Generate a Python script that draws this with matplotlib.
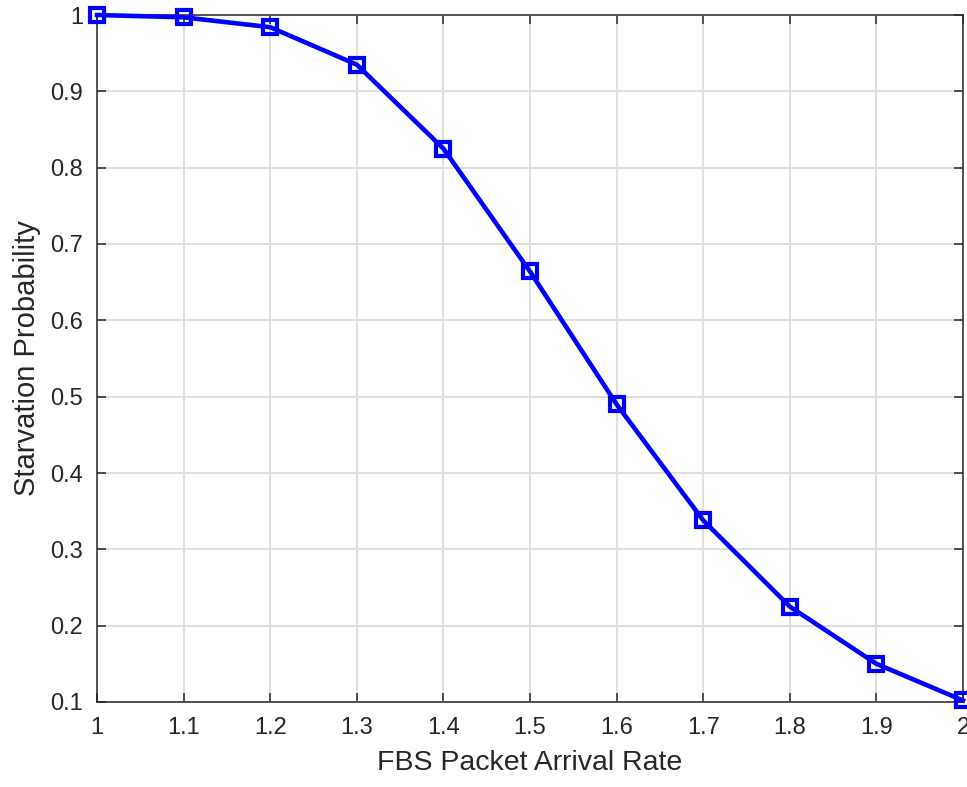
import matplotlib
matplotlib.use("Agg")
import matplotlib.pyplot as plt

plt.rcParams["font.family"] = ["Liberation Sans", "DejaVu Sans"]

# arrival rate vs. starvation probability
arrival_rate = [1.0, 1.1, 1.2, 1.3, 1.4, 1.5, 1.6, 1.7, 1.8, 1.9, 2.0]
starvation = [1.0, 0.997, 0.984, 0.935, 0.825, 0.664, 0.490, 0.338, 0.225, 0.150, 0.102]

x_ticks = [1.0, 1.1, 1.2, 1.3, 1.4, 1.5, 1.6, 1.7, 1.8, 1.9, 2.0]
x_tick_labels = ["1", "1.1", "1.2", "1.3", "1.4", "1.5", "1.6", "1.7", "1.8", "1.9", "2"]
y_ticks = [0.1, 0.2, 0.3, 0.4, 0.5, 0.6, 0.7, 0.8, 0.9, 1.0]
y_tick_labels = ["0.1", "0.2", "0.3", "0.4", "0.5", "0.6", "0.7", "0.8", "0.9", "1"]

fig = plt.figure(figsize=(9.67, 7.87), dpi=100)
ax = fig.add_axes([97 / 967, 85 / 787, 866 / 967, 687 / 787])

ax.plot(arrival_rate, starvation, color="blue", linewidth=3.3,
        marker="s", markersize=10, markerfacecolor="none",
        markeredgewidth=3.0, clip_on=False, zorder=3)

ax.set_xlim(1.0, 2.0)
ax.set_ylim(0.1, 1.0)
ax.set_xticks(x_ticks)
ax.set_xticklabels(x_tick_labels)
ax.set_yticks(y_ticks)
ax.set_yticklabels(y_tick_labels)

ax.grid(True, color="#dfdfdf", linewidth=1.4)
ax.set_axisbelow(True)
ax.tick_params(direction="in", length=6.5, width=1.1, colors="#262626",
               labelsize=17, top=True, right=True)
ax.tick_params(axis="x", pad=11)
ax.tick_params(axis="y", pad=10)
for s in ax.spines.values():
    s.set_color("#262626")
    s.set_linewidth(1.1)

ax.set_xlabel("FBS Packet Arrival Rate", fontsize=20.5, color="#262626", labelpad=7.5)
ax.set_ylabel("Starvation Probability", fontsize=21, color="#262626", labelpad=7)

fig.savefig("out.png", dpi=100)
